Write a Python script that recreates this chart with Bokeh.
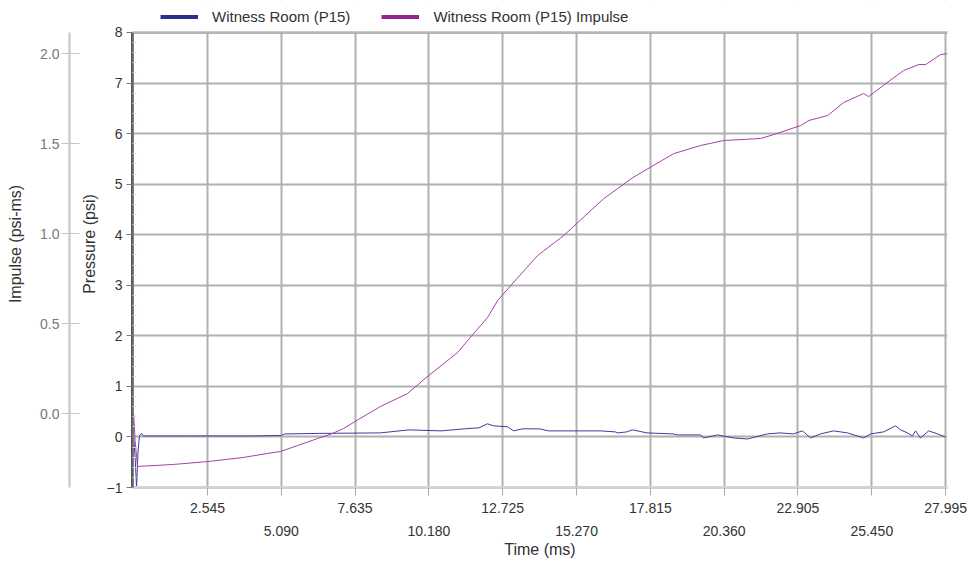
from bokeh.plotting import figure
from bokeh.models import (Range1d, LinearAxis, FixedTicker, Legend, LegendItem,
                          PrintfTickFormatter, BoxAnnotation, CustomJSTickFormatter)
from bokeh.embed import file_html
from bokeh.resources import INLINE

# ---- data ----
time_pressure = [0.0, 0.05, 0.1, 0.15, 0.2, 0.27, 0.33, 2.0, 4.0, 5.1, 5.2, 6.4, 8.5, 9.5, 10.6,
                 11.4, 11.9, 12.2, 12.4, 12.9, 13.1, 13.4, 14.0, 14.3, 16.1, 16.6, 16.7, 17.0, 17.2,
                 17.7, 18.6, 18.75, 19.55, 19.65, 20.13, 20.68, 21.16, 21.85, 22.3, 22.75, 23.06,
                 23.34, 23.68, 24.13, 24.61, 25.17, 25.41, 25.86, 26.27, 26.44, 26.68, 26.85, 26.96,
                 27.13, 27.41, 27.72, 27.99]
pressure = [0.0, -0.4, -1.0, -0.3, 0.02, 0.07, 0.02, 0.02, 0.02, 0.03, 0.06, 0.07, 0.08, 0.14, 0.12,
            0.16, 0.18, 0.26, 0.22, 0.2, 0.12, 0.16, 0.16, 0.12, 0.12, 0.1, 0.08, 0.1, 0.14,
            0.08, 0.06, 0.04, 0.04, -0.02, 0.04, -0.02, -0.04, 0.06, 0.08, 0.06, 0.12,
            -0.02, 0.06, 0.12, 0.08, -0.02, 0.06, 0.1, 0.22, 0.14, 0.08, 0.02, 0.12,
            -0.02, 0.12, 0.06, 0.0]

time_impulse = [0.0, 0.05, 0.13, 1.37, 2.54, 3.79, 4.61, 5.06, 5.65, 6.34, 6.86, 7.24, 7.75, 8.51,
                9.44, 10.17, 11.17, 11.72, 12.2, 12.55, 13.0, 13.93, 14.83, 15.31, 16.21, 17.21,
                17.8, 18.62, 19.55, 20.34, 21.62, 22.07, 23.0, 23.28, 23.93, 24.48, 25.17, 25.34,
                25.93, 26.55, 27.07, 27.31, 27.82, 28.06]
impulse = [0.0, -0.15, -0.294, -0.283, -0.267, -0.244, -0.222, -0.211, -0.178, -0.139, -0.111,
           -0.083, -0.033, 0.039, 0.111, 0.211, 0.339, 0.444, 0.533, 0.628, 0.711, 0.878, 0.989,
           1.061, 1.194, 1.311, 1.367, 1.444, 1.489, 1.517, 1.528, 1.55, 1.6, 1.628, 1.656, 1.728,
           1.778, 1.761, 1.833, 1.906, 1.939, 1.939, 1.994, 2.0]

time_ticks_row1 = [2.545, 7.635, 12.725, 17.815, 22.905, 27.995]
time_ticks_row2 = [5.090, 10.180, 15.270, 20.360, 25.450]
pressure_ticks = [-1, 0, 1, 2, 3, 4, 5, 6, 7, 8]
impulse_ticks = [0.0, 0.5, 1.0, 1.5, 2.0]

series_names = ["Witness Room (P15)", "Witness Room (P15) Impulse"]
line_colors = ["#3d3da3", "#a640aa"]
swatch_colors = ["#2b2f8c", "#8e2a90"]

FONT = "Liberation Sans"

X0, X1 = -0.04, 28.06
P0, P1 = -1, 8            # pressure axis extent
I0, I1 = -0.411, 2.117    # impulse axis extent (same pixels as pressure)
HEAD = 32 / 50.556        # room above the plot box for the legend, in pressure units
HEAD_I = 32 / 180.0

p = figure(width=974, height=560, x_range=Range1d(X0, X1), y_range=Range1d(P0, P1 + HEAD),
           output_backend="svg", toolbar_location=None,
           min_border_left=132, min_border_right=27, min_border_top=0, min_border_bottom=73,
           background_fill_color="white", border_fill_color="white")
p.extra_y_ranges = {"imp": Range1d(I0, I1 + HEAD_I)}
p.outline_line_color = None

# grids
p.xgrid.ticker = FixedTicker(ticks=time_ticks_row1 + time_ticks_row2)
p.ygrid.ticker = FixedTicker(ticks=pressure_ticks)
for g in (p.xgrid[0], p.ygrid[0]):
    g.grid_line_color = "#b0b0b0"
    g.grid_line_width = 2

# white band above the plot box (legend area), then plot box borders
p.add_layout(BoxAnnotation(bottom=P1, fill_color="white", fill_alpha=1.0, line_color=None))
p.add_layout(BoxAnnotation(left=X0, right=X1, bottom=P0, top=P1, fill_color=None,
                           line_color="#dddddd", line_width=3))
p.add_layout(BoxAnnotation(left=X0, right=X1, bottom=P1, top=P1, fill_color=None,
                           line_color="#666666", line_width=3))

# pressure axis (inner left)
ya = p.yaxis[0]
ya.bounds = (P0, P1)
ya.ticker = FixedTicker(ticks=pressure_ticks,
                        minor_ticks=[i / 5 for i in range(-5, 41) if i % 5])
ya.axis_line_color = "#555555"
ya.axis_line_width = 3
ya.major_tick_out = 6
ya.major_tick_in = 0
ya.major_tick_line_color = "#777777"
ya.minor_tick_in = 4
ya.minor_tick_out = 0
ya.minor_tick_line_color = "#d4d4d4"
ya.major_label_standoff = 4
ya.major_label_text_font = FONT
ya.major_label_text_font_size = "14px"
ya.major_label_text_color = "#333333"
ya.axis_label = "Pressure (psi)"
ya.axis_label_text_font = FONT
ya.axis_label_text_font_size = "16px"
ya.axis_label_text_font_style = "normal"
ya.axis_label_text_color = "#333333"
ya.axis_label_standoff = 6

# spacer axis between the two y axes (one invisible tick gives it a width)
sp = LinearAxis(ticker=FixedTicker(ticks=[4], minor_ticks=[]), axis_line_color=None,
                major_tick_line_color=None, minor_tick_line_color=None,
                major_tick_out=8, major_tick_in=0, minor_tick_out=0, minor_tick_in=0,
                major_label_standoff=0, formatter=CustomJSTickFormatter(code="return ''"))
p.add_layout(sp, "left")

# impulse axis (outer left)
ia = LinearAxis(y_range_name="imp", ticker=FixedTicker(ticks=impulse_ticks, minor_ticks=[]),
                formatter=PrintfTickFormatter(format="%.1f"), bounds=(I0, I1))
ia.axis_line_color = "#c4c4c4"
ia.axis_line_width = 2
ia.major_tick_out = 8
ia.major_tick_in = 10
ia.major_tick_line_color = "#c4c4c4"
ia.minor_tick_line_color = None
ia.major_label_standoff = 2
ia.major_label_text_font = FONT
ia.major_label_text_font_size = "14px"
ia.major_label_text_color = "#777777"
ia.axis_label = "Impulse (psi-ms)"
ia.axis_label_text_font = FONT
ia.axis_label_text_font_size = "16px"
ia.axis_label_text_font_style = "normal"
ia.axis_label_text_color = "#333333"
ia.axis_label_standoff = 13
p.add_layout(ia, "left")

# bottom axis, row 1
xa = p.xaxis[0]
xa.ticker = FixedTicker(ticks=time_ticks_row1, minor_ticks=time_ticks_row2)
xa.formatter = PrintfTickFormatter(format="%.3f")
xa.axis_line_color = "#d0d0d0"
xa.axis_line_width = 3
xa.major_tick_out = 8
xa.major_tick_in = 0
xa.minor_tick_out = 8
xa.minor_tick_in = 0
xa.major_tick_line_color = "#aaaaaa"
xa.minor_tick_line_color = "#aaaaaa"
xa.major_label_standoff = 7
xa.major_label_text_font = FONT
xa.major_label_text_font_size = "14px"
xa.major_label_text_color = "#333333"

# bottom axis, row 2 (staggered labels)
xb = LinearAxis(ticker=FixedTicker(ticks=time_ticks_row2, minor_ticks=[]),
                formatter=PrintfTickFormatter(format="%.3f"))
xb.axis_line_color = None
xb.major_tick_line_color = None
xb.minor_tick_line_color = None
xb.major_tick_out = 0
xb.major_tick_in = 0
xb.major_label_standoff = 10
xb.major_label_text_font = FONT
xb.major_label_text_font_size = "14px"
xb.major_label_text_color = "#333333"
xb.axis_label = "Time (ms)"
xb.axis_label_text_font = FONT
xb.axis_label_text_font_size = "16px"
xb.axis_label_text_font_style = "normal"
xb.axis_label_text_color = "#333333"
xb.axis_label_standoff = 2
p.add_layout(xb, "below")

# series
p.line(time_pressure, pressure, line_color=line_colors[0], line_width=1)
p.line(time_impulse, impulse, line_color=line_colors[1], line_width=1, y_range_name="imp")

# legend swatches (single-point lines draw nothing in the plot)
d0 = p.line(time_pressure[:1], pressure[:1], line_color=swatch_colors[0], line_width=4)
d1 = p.line(time_pressure[:1], pressure[:1], line_color=swatch_colors[1], line_width=4)
legend = Legend(items=[LegendItem(label=series_names[0], renderers=[d0]),
                       LegendItem(label=series_names[1], renderers=[d1])],
                orientation="horizontal", location=(28, 462),
                glyph_width=38, glyph_height=15, label_standoff=14, spacing=31,
                padding=0, margin=0, border_line_color=None, background_fill_alpha=0,
                label_text_font=FONT, label_text_font_size="15px", label_text_color="#333333")
p.add_layout(legend, "center")

open("out.html", "w").write(file_html(p, INLINE))
